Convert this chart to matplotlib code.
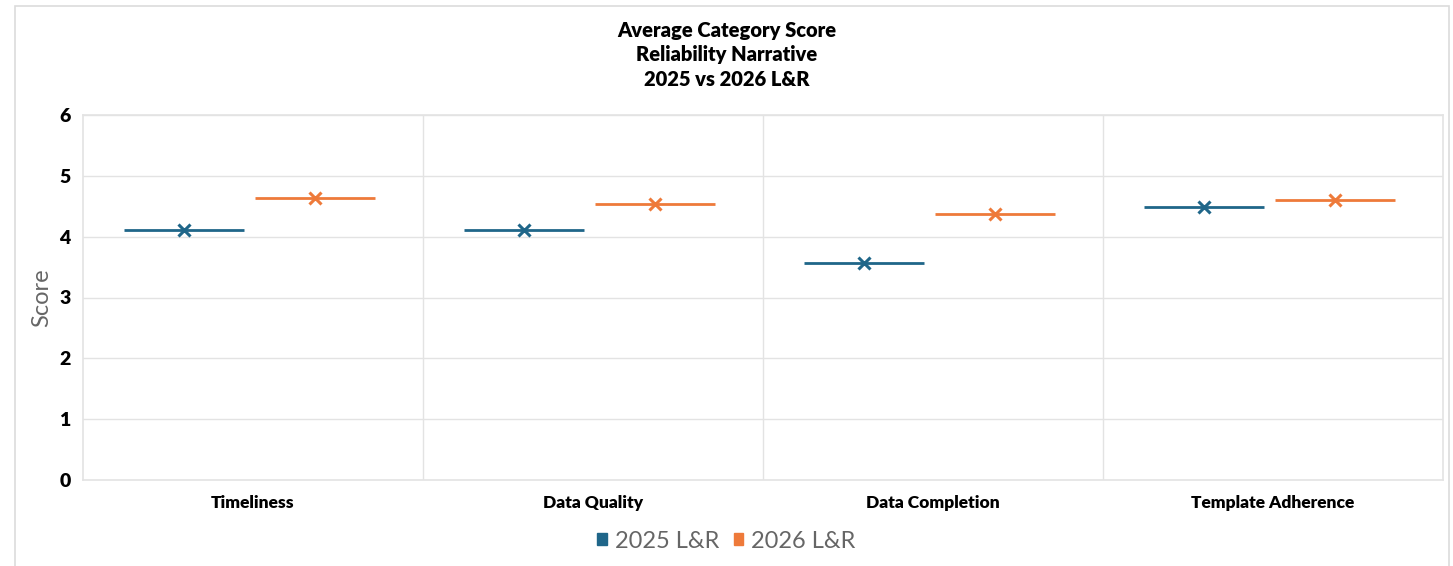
import matplotlib.pyplot as plt
import matplotlib.patches as mpatches
import numpy as np

categories = ["Timeliness", "Data Quality", "Data Completion", "Template Adherence"]
scores_2025 = [4.11, 4.11, 3.56, 4.48]
scores_2026 = [4.63, 4.54, 4.38, 4.61]
series_names = ["2025 L&R", "2026 L&R"]

blue = "#1f6689"
orange = "#ee7a3a"
grid_col = "#e3e3e3"

plt.rcParams["font.family"] = ["Lato", "DejaVu Sans"]

fig = plt.figure(figsize=(14.53, 5.66), dpi=100)
ax = fig.add_axes([83 / 1453, 86 / 566, 1360 / 1453, 365 / 566])

# outer chart frame
fig.patches.append(mpatches.Rectangle((15 / 1453, -0.05), 1434 / 1453, 1.05 - 6 / 566,
                                      transform=fig.transFigure, fill=False,
                                      edgecolor="#dcdcdc", linewidth=1.2))

x = np.arange(len(categories))
half = 0.176
off1, off2 = -0.203, 0.182

ax.hlines(scores_2025, x + off1 - half, x + off1 + half, color=blue, linewidth=2)
ax.hlines(scores_2026, x + off2 - half, x + off2 + half, color=orange, linewidth=2)
ax.plot(x + off1, scores_2025, linestyle="none", marker="x", markersize=8,
        markeredgewidth=2.2, color=blue)
ax.plot(x + off2, scores_2026, linestyle="none", marker="x", markersize=8,
        markeredgewidth=2.2, color=orange)

ax.set_xlim(-0.5, len(categories) - 0.5)
ax.set_ylim(0, 6)
ax.set_yticks(range(0, 7))
ax.set_xticks(x)
ax.set_xticklabels(categories, fontsize=12.5, fontweight="heavy")
ax.set_yticklabels([str(v) for v in range(0, 7)], fontsize=14, fontweight="heavy")
ax.tick_params(length=0, pad=9)
ax.tick_params(axis="x", pad=11)

for v in range(1, 7):
    ax.axhline(v, color=grid_col, linewidth=1, zorder=0)
for b in np.arange(0.5, len(categories) - 0.5):
    ax.axvline(b, color=grid_col, linewidth=1, zorder=0)
for s in ax.spines.values():
    s.set_color(grid_col)
    s.set_linewidth(1.2)

ax.set_ylabel("Score", fontsize=17, color="#666666", labelpad=5)

fig.text(0.5, 1 - 30 / 566, "Average Category Score", ha="center", va="center",
         fontsize=14.5, fontweight="heavy")
fig.text(0.5, 1 - 55 / 566, "Reliability Narrative", ha="center", va="center",
         fontsize=14.5, fontweight="heavy")
fig.text(0.5, 1 - 80 / 566, "2025 vs 2026 L&R", ha="center", va="center",
         fontsize=14.5, fontweight="heavy")

handles = [mpatches.Patch(color=blue, label=series_names[0]),
           mpatches.Patch(color=orange, label=series_names[1])]
leg = fig.legend(handles=handles, loc="center", bbox_to_anchor=(0.5, 1 - 541 / 566),
                 ncol=2, frameon=False, fontsize=17, handlelength=0.4, handleheight=0.4,
                 handletextpad=0.35, columnspacing=0.6)
for t in leg.get_texts():
    t.set_color("#666666")

plt.savefig("out.png", dpi=100)
